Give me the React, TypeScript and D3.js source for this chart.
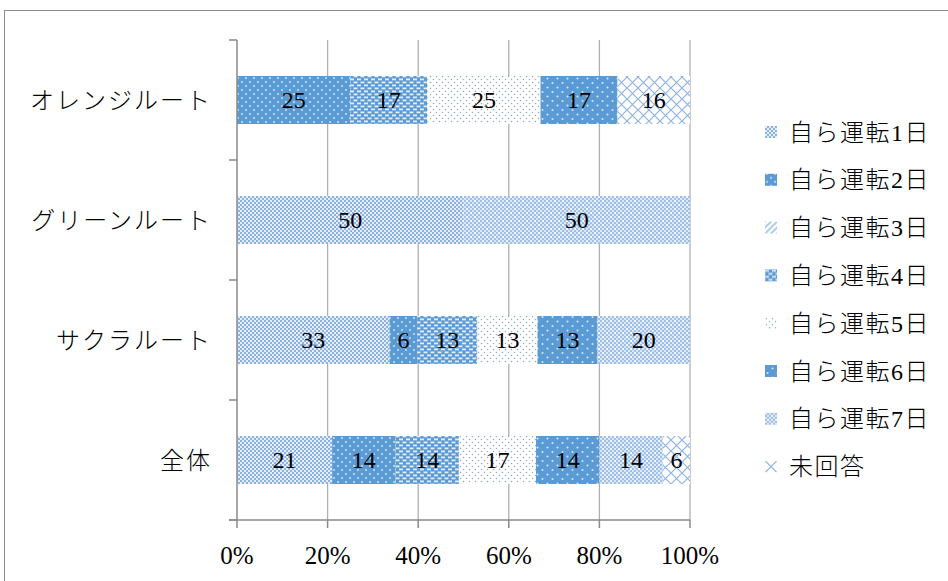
import React from "react";
import * as d3 from "d3";

const categories = ["オレンジルート", "グリーンルート", "サクラルート", "全体"];
const seriesNames = ["自ら運転1日", "自ら運転2日", "自ら運転3日", "自ら運転4日", "自ら運転5日", "自ら運転6日", "自ら運転7日", "未回答"];
const day1 = [0, 50, 33, 21];
const day2 = [25, 0, 6, 14];
const day3 = [0, 0, 0, 0];
const day4 = [17, 0, 13, 14];
const day5 = [25, 0, 13, 17];
const day6 = [17, 0, 13, 14];
const day7 = [0, 50, 20, 14];
const noAnswer = [16, 0, 0, 6];
const seriesValues = [day1, day2, day3, day4, day5, day6, day7, noAnswer];
const xTicks = [0, 0.2, 0.4, 0.6, 0.8, 1];

const W = 948, H = 581;
const BLUE = "#5b9bd5";
const LB = "#8db2e2";
const SERIF = "'Liberation Serif', serif";
const CJK = "'Noto Sans CJK JP', sans-serif";

function MixedText({ s }: { s: string }) {
  const parts = s.match(/[\x00-\x7f]+|[^\x00-\x7f]+/g) || [];
  return (
    <>
      {parts.map((p, i) => (
        <tspan key={i} fontFamily={/^[\x00-\x7f]+$/.test(p) ? SERIF : CJK}>{p}</tspan>
      ))}
    </>
  );
}

function Patterns() {
  return (
    <defs>
      <pattern id="p0" patternUnits="userSpaceOnUse" width="4" height="4">
        <rect width="4" height="4" fill="#e6eef9" />
        <rect x="0" y="0" width="2" height="2" fill={LB} />
        <rect x="2" y="2" width="2" height="2" fill={LB} />
      </pattern>
      <pattern id="p1" patternUnits="userSpaceOnUse" width="8" height="8">
        <rect width="8" height="8" fill={BLUE} />
        <circle cx="2" cy="2" r="0.9" fill="#dbe9f7" />
        <circle cx="6" cy="6" r="0.9" fill="#dbe9f7" />
      </pattern>
      <pattern id="p2" patternUnits="userSpaceOnUse" width="6" height="6">
        <rect width="6" height="6" fill="#ffffff" />
        <path d="M0,6 L6,0 M-1,1 L1,-1 M5,7 L7,5" stroke="#9dc3e6" strokeWidth="1.6" />
      </pattern>
      <pattern id="p3" patternUnits="userSpaceOnUse" width="7" height="6">
        <rect width="7" height="6" fill={BLUE} />
        <rect x="0" y="0.5" width="4" height="1.8" fill="#e4eef9" />
        <rect x="3.5" y="3.5" width="4" height="1.8" fill="#e4eef9" />
        <rect x="-3.5" y="3.5" width="4" height="1.8" fill="#e4eef9" />
      </pattern>
      <pattern id="p4" patternUnits="userSpaceOnUse" width="6" height="6">
        <rect width="6" height="6" fill="#ffffff" />
        <circle cx="1.5" cy="1.5" r="0.75" fill="#8ea6c8" />
        <circle cx="4.5" cy="4.5" r="0.75" fill="#8ea6c8" />
      </pattern>
      <pattern id="p5" patternUnits="userSpaceOnUse" width="10" height="9">
        <rect width="10" height="9" fill={BLUE} />
        <circle cx="2.5" cy="2" r="1" fill="#dbe9f7" />
        <circle cx="7.5" cy="6.5" r="1" fill="#dbe9f7" />
      </pattern>
      <pattern id="p6" patternUnits="userSpaceOnUse" width="8" height="8">
        <rect width="8" height="8" fill="#dce8f6" />
        {[0, 4].map((ox) => [0, 4].map((oy) => (
          <g key={`${ox}-${oy}`}>
            <rect x={ox} y={oy} width="2" height="2" fill="#9dbfe8" />
            <rect x={ox + 2} y={oy + 2} width="2" height="2" fill="#9dbfe8" />
          </g>
        )))}
        <rect x="2.3" y="0.3" width="1.7" height="1.7" fill="#ffffff" />
        <rect x="6.3" y="4.3" width="1.7" height="1.7" fill="#ffffff" />
      </pattern>
      <pattern id="p7" patternUnits="userSpaceOnUse" width="11" height="11">
        <rect width="11" height="11" fill="#ffffff" />
        <path d="M0,0 L11,11 M11,0 L0,11" stroke="#8fb4e3" strokeWidth="1.2" />
      </pattern>
    </defs>
  );
}

export default function App() {
  const x = d3.scaleLinear().domain([0, 1]).range([237, 690]);
  const y = d3.scaleBand<string>().domain(categories).range([40, 520]).paddingInner(0.6).paddingOuter(0.3);
  const rows = categories.map((c, i) => {
    const r: any = { cat: c };
    seriesNames.forEach((s, j) => (r[s] = seriesValues[j][i]));
    return r;
  });
  const stacked = d3.stack<any>().keys(seriesNames).offset(d3.stackOffsetExpand)(rows);
  const ticksY = d3.range(categories.length + 1).map((i) => 40 + (i * 480) / categories.length);
  const legendY = d3.range(seriesNames.length).map((i) => 132 + i * 47.8);

  return (
    <svg width={W} height={H} style={{ position: "absolute", left: 0, top: 0, background: "#fff" }}>
      <Patterns />
      <rect x={0} y={0} width={W} height={H} fill="#fff" />
      <rect x={4.5} y={10.5} width={980} height={620} fill="none" stroke="#8c8c8c" strokeWidth={1} />
      {xTicks.slice(1).map((t) => (
        <line key={t} x1={x(t)} x2={x(t)} y1={40} y2={520} stroke="#b0b0b0" strokeWidth={1.3} />
      ))}
      {stacked.map((s, si) =>
        s.map((d, ci) => {
          const w = x(d[1]) - x(d[0]);
          if (w <= 0) return null;
          return (
            <rect key={`${si}-${ci}`} x={x(d[0])} y={y(categories[ci])!} width={w} height={y.bandwidth()} fill={`url(#p${si})`} />
          );
        })
      )}
      {stacked.map((s, si) =>
        s.map((d, ci) => {
          const v = seriesValues[si][ci];
          if (!v) return null;
          return (
            <text key={`l${si}-${ci}`} x={(x(d[0]) + x(d[1])) / 2} y={y(categories[ci])! + y.bandwidth() / 2 + 8}
              textAnchor="middle" fontFamily={SERIF} fontSize={24} fill="#000">{v}</text>
          );
        })
      )}
      <line x1={237} x2={237} y1={40} y2={520} stroke="#8a8a8a" strokeWidth={1.5} />
      {ticksY.map((t) => (
        <line key={t} x1={229} x2={237} y1={t} y2={t} stroke="#8a8a8a" strokeWidth={1.5} />
      ))}
      <line x1={229} x2={x(1)} y1={520} y2={520} stroke="#8a8a8a" strokeWidth={1.5} />
      {xTicks.map((t) => (
        <line key={`xt${t}`} x1={x(t)} x2={x(t)} y1={520} y2={528} stroke="#8a8a8a" strokeWidth={1.5} />
      ))}
      {xTicks.map((t) => (
        <text key={`xl${t}`} x={x(t)} y={564} textAnchor="middle" fontFamily={SERIF} fontSize={25} fill="#000">
          {d3.format(".0%")(t)}
        </text>
      ))}
      {categories.map((c) => (
        <text key={c} x={212} y={y(c)! + y.bandwidth() / 2 + 9} textAnchor="end" fontFamily={CJK}
          fontSize={24} letterSpacing={2} fontWeight={300} fill="#000">{c}</text>
      ))}
      {seriesNames.map((s, i) => (
        <g key={s} transform={`translate(765,${legendY[i]})`}>
          {i === seriesNames.length - 1 ? (
            <g>
              <rect x={0} y={-6} width={12} height={12} fill="#fff" />
              <path d="M0.5,-5.5 L11.5,5.5 M11.5,-5.5 L0.5,5.5" stroke="#8fb4e3" strokeWidth={1.3} />
            </g>
          ) : (
            <rect x={0} y={-6} width={12} height={12} fill={`url(#p${i})`} />
          )}
          <text x={24} y={8.5} fontSize={24} letterSpacing={1.5} fontWeight={300} fill="#000">
            <MixedText s={s} />
          </text>
        </g>
      ))}
    </svg>
  );
}
